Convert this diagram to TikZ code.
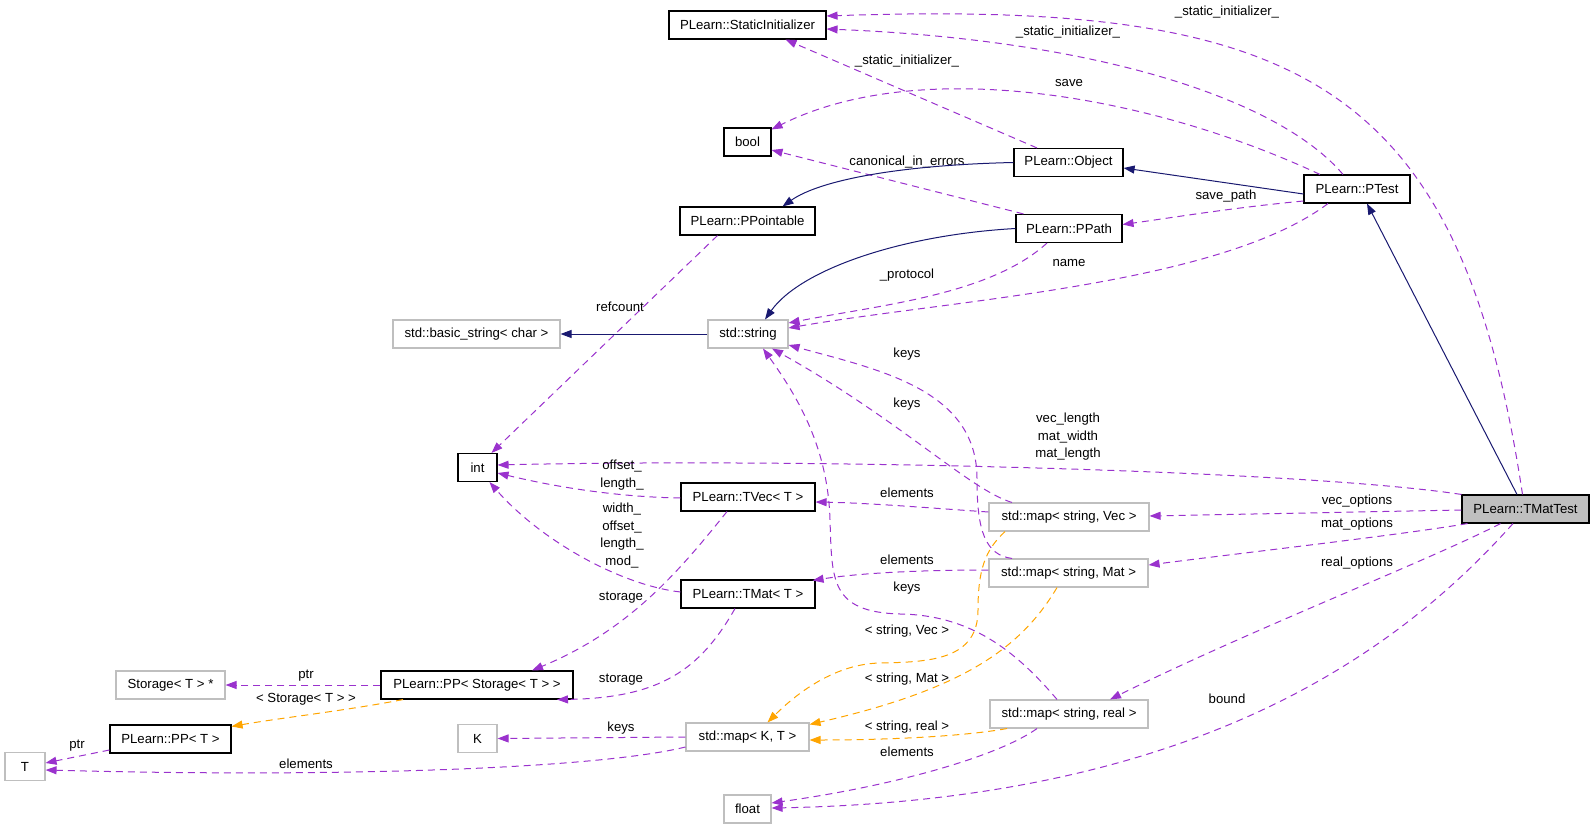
\documentclass[tikz,border=0pt]{standalone}
\usepackage{fontspec}
\setmainfont{Liberation Sans}
\usetikzlibrary{arrows.meta}
\definecolor{usecol}{HTML}{9A32CD}
\definecolor{inhcol}{HTML}{191970}
\definecolor{tplcol}{HTML}{FFA500}
\definecolor{undoc}{HTML}{BFBFBF}
\begin{document}
\begin{tikzpicture}[x=1pt,y=-1pt,
  every node/.style={font=\fontsize{13.2}{17.5}\selectfont, inner sep=0pt},
  cls/.style={draw=black, line width=1.1pt, minimum height=28pt},
  ext/.style={draw=undoc, line width=1.1pt, minimum height=28pt},
  lbl/.style={align=center},
  useedge/.style={draw=usecol, line width=1pt, dash pattern=on 7pt off 5pt, -{Triangle[length=11pt,width=8pt,fill=usecol]}},
  tpledge/.style={draw=tplcol, line width=1pt, dash pattern=on 7pt off 5pt, -{Triangle[length=11pt,width=8pt,fill=tplcol]}},
  inhedge/.style={draw=inhcol, line width=1pt, -{Triangle[length=11pt,width=8pt,fill=inhcol]}}
]
\useasboundingbox (0,0) rectangle (1595,829);
% nodes
\node[cls, minimum width=157pt] (si) at (747.5,25) {PLearn::StaticInitializer};
\node[cls, minimum width=47pt] (bool) at (747.5,142) {bool};
\node[cls, minimum width=109pt] (obj) at (1068.5,162.5) {PLearn::Object};
\node[cls, minimum width=135pt] (ppointable) at (747.5,221) {PLearn::PPointable};
\node[cls, minimum width=106pt] (ppath) at (1069,228.5) {PLearn::PPath};
\node[cls, minimum width=106pt] (ptest) at (1357,189) {PLearn::PTest};
\node[ext, minimum width=167pt] (bstr) at (476.5,334) {std::basic\_string< char >};
\node[ext, minimum width=80pt] (str) at (748,334) {std::string};
\node[cls, minimum width=39pt] (int) at (477.5,467.5) {int};
\node[cls, minimum width=134pt] (tvec) at (748,497) {PLearn::TVec< T >};
\node[cls, minimum width=134pt] (tmat) at (748,594) {PLearn::TMat< T >};
\node[ext, minimum width=160pt] (mapvec) at (1069,517) {std::map< string, Vec >};
\node[ext, minimum width=159pt] (mapmat) at (1068.5,573) {std::map< string, Mat >};
\node[cls, fill=undoc, minimum width=127pt] (tmattest) at (1525.5,509) {PLearn::TMatTest};
\node[ext, minimum width=158pt] (mapreal) at (1069,714) {std::map< string, real >};
\node[ext, minimum width=123pt] (mapkt) at (747.5,737) {std::map< K, T >};
\node[ext, minimum width=47pt] (float) at (747.5,809) {float};
\node[ext, minimum width=109pt] (storage) at (170.5,685) {Storage< T > *};
\node[cls, minimum width=192pt] (ppstorage) at (477,685) {PLearn::PP< Storage< T > >};
\node[cls, minimum width=121pt] (ppt) at (170.5,739) {PLearn::PP< T >};
\node[ext, minimum width=40pt] (T) at (25,766.5) {T};
\node[ext, minimum width=39pt] (K) at (477.5,738.5) {K};
% edges
\draw[useedge] ([xshift=-3pt]tmattest.north) .. controls (1460,80) and (1300,0) .. ([yshift=9pt]si.east);
\node[lbl] (l1) at (1227,12) {\_static\_initializer\_};
\draw[useedge] ([xshift=-14pt]ptest.north) .. controls (1280,100) and (1100,40) .. ([yshift=-4pt]si.east);
\node[lbl] (l2) at (1068,32) {\_static\_initializer\_};
\draw[useedge] ([xshift=-31.5pt]obj.north) -- ([xshift=38pt]si.south);
\node[lbl] (l3) at (907,61) {\_static\_initializer\_};
\draw[useedge] ([xshift=-37pt]ptest.north) .. controls (1150,95) and (920,55) .. ([yshift=-2pt]bool.north east);
\node[lbl] (l4) at (1069,83) {save};
\draw[useedge] ([xshift=8pt]ppath.north west) -- ([yshift=-8pt]bool.east);
\node[lbl] (l5) at (907,162) {canonical\_in\_errors};
\draw[inhedge] (obj.west) .. controls (900,165) and (820,180) .. ([xshift=35pt]ppointable.north);
\draw[inhedge] ([yshift=-5pt]ptest.west) -- ([yshift=-5.5pt]obj.east);
\draw[useedge] ([yshift=-12pt]ptest.west) .. controls (1230,208) and (1170,218) .. ([yshift=4pt]ppath.east);
\node[lbl] (l8) at (1226,196) {save\_path};
\draw[useedge] ([xshift=-29pt]ptest.south) .. controls (1220,285) and (950,300) .. ([yshift=6pt]str.east);
\node[lbl] (l9) at (1069,263) {name};
\draw[useedge] ([xshift=-22pt]ppath.south) .. controls (990,295) and (880,305) .. ([yshift=11pt]str.east);
\node[lbl] (l10) at (907,275) {\_protocol};
\draw[inhedge] (ppath.west) .. controls (900,235) and (800,270) .. ([xshift=17pt]str.north);
\draw[inhedge] (str.west) -- (bstr.east);
\draw[useedge] ([xshift=-30pt]ppointable.south) -- ([xshift=14pt]int.north);
\node[lbl] (l13) at (620,307) {refcount};
\draw[useedge] (tmattest.north west) .. controls (1300,470) and (800,458) .. ([yshift=2.5pt]int.east);
\node[lbl] (l14) at (1068,437) {vec\_length\\mat\_width\\mat\_length};
\draw[useedge] ([yshift=-1pt]tvec.west) .. controls (620,497) and (560,488) .. ([yshift=-5.5pt]int.east);
\node[lbl] (l15) at (622,475) {offset\_\\length\_};
\draw[useedge] ([yshift=2pt]tmat.west) .. controls (620,585) and (540,540) .. ([xshift=12pt]int.south);
\node[lbl] (l16) at (622,535.5) {width\_\\offset\_\\length\_\\mod\_};
\draw[useedge] ([xshift=-21pt]tvec.south) .. controls (680,570) and (630,630) .. ([xshift=55pt]ppstorage.north);
\node[lbl] (l17) at (621,598) {storage};
\draw[useedge] ([xshift=-13pt]tmat.south) .. controls (700,670) and (660,698) .. ([xshift=80pt]ppstorage.south);
\node[lbl] (l18) at (621,680) {storage};
\draw[useedge] (ppstorage.west) -- (storage.east);
\node[lbl] (l19) at (306,676) {ptr};
\draw[tpledge] ([xshift=-74pt]ppstorage.south) .. controls (350,710) and (280,718) .. ([yshift=-2pt]ppt.north east);
\node[lbl] (l20) at (306,699) {< Storage< T > >};
\draw[useedge] ([yshift=-11pt]ppt.west) .. controls (85,755) and (60,760) .. ([yshift=3.5pt]T.east);
\node[lbl] (l21) at (77,746) {ptr};
\draw[useedge] ([yshift=-10pt]mapkt.west) .. controls (600,768) and (350,778) .. ([yshift=-3.5pt]T.east);
\node[lbl] (l22) at (306,764) {elements};
\draw[useedge] (mapkt.west) -- (K.east);
\node[lbl] (l23) at (621,728) {keys};
\draw[useedge] ([yshift=5pt]mapvec.west) .. controls (930,508) and (870,503) .. ([yshift=-5pt]tvec.east);
\node[lbl] (l24) at (907,493) {elements};
\draw[useedge] ([yshift=3pt]mapmat.west) .. controls (920,570) and (860,573) .. ([xshift=-3pt,yshift=-1pt]tmat.north east);
\node[lbl] (l25) at (907,560) {elements};
\draw[useedge] ([xshift=-56.5pt]mapmat.north) .. controls (985,555) and (977,530) .. (977,480) .. controls (978,390) and (880,370) .. ([yshift=-11pt]str.east);
\node[lbl] (l26) at (907,354) {keys};
\draw[useedge] ([xshift=-57pt]mapvec.north) .. controls (970,490) and (900,420) .. ([xshift=24pt]str.south);
\node[lbl] (l27) at (907,404) {keys};
\draw[useedge] ([xshift=-12pt]mapreal.north) .. controls (1015,650) and (970,615) .. (900,614) .. controls (830,612) and (832,580) .. (830,520) .. controls (828,450) and (800,400) .. ([xshift=15pt]str.south);
\node[lbl] (l28) at (907,588) {keys};
\draw[useedge] ([yshift=-1pt]tmattest.west) -- ([yshift=1pt]mapvec.east);
\node[lbl] (l29) at (1357,501) {vec\_options};
\draw[useedge] ([xshift=-58pt]tmattest.south) .. controls (1400,535) and (1250,552) .. ([yshift=8pt]mapmat.east);
\node[lbl] (l30) at (1357,524) {mat\_options};
\draw[useedge] ([xshift=-25pt]tmattest.south) .. controls (1430,560) and (1250,630) .. ([xshift=41pt]mapreal.north);
\node[lbl] (l31) at (1357,563) {real\_options};
\draw[useedge] ([xshift=-12.5pt]tmattest.south) .. controls (1400,650) and (1200,800) .. ([yshift=1pt]float.east);
\node[lbl] (l32) at (1227,699) {bound};
\draw[useedge] ([xshift=-32pt]mapreal.south) .. controls (1000,755) and (900,785) .. ([yshift=6pt]float.east);
\node[lbl] (l33) at (907,752) {elements};
\draw[tpledge] ([xshift=-64pt]mapvec.south) .. controls (985,550) and (978,570) .. (978,610) .. controls (978,660) and (930,662) .. (880,663) .. controls (830,664) and (790,700) .. ([xshift=20pt]mapkt.north);
\node[lbl] (l34) at (907,631) {< string, Vec >};
\draw[tpledge] ([xshift=-11.5pt]mapmat.south) .. controls (1020,650) and (960,690) .. ([yshift=-2pt]mapkt.north east);
\node[lbl] (l35) at (907,679) {< string, Mat >};
\draw[tpledge] ([xshift=-62pt]mapreal.south) .. controls (960,737) and (880,740) .. ([yshift=-3pt]mapkt.east);
\node[lbl] (l36) at (907,727) {< string, real >};
\draw[inhedge] ([xshift=-8.5pt]tmattest.north) -- ([xshift=10pt]ptest.south);
\end{tikzpicture}
\end{document}
